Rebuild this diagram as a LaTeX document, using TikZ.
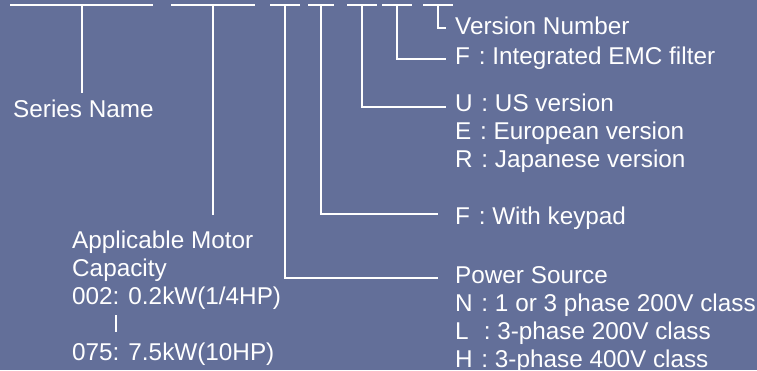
\documentclass[tikz,border=0pt]{standalone}
\usepackage{fontspec}
\setmainfont{Liberation Sans}
\definecolor{bg}{RGB}{99,111,153}
\newcommand{\cl}{\hspace{0.36em}:\ }
\begin{document}
\begin{tikzpicture}[x=1pt,y=-1pt,
  lbl/.style={anchor=base west, inner sep=0pt, text=white, font=\fontsize{24.3}{28}\selectfont},
  wire/.style={draw=white, line width=1.5pt}]
\fill[bg] (0,0) rectangle (757,370);
\useasboundingbox (0,0) rectangle (757,370);
% top bars
\foreach \n/\a/\b/\s in {1/10/153/82, 2/171/255/213, 3/270/300/285, 4/308/334/321, 5/347/377/362, 6/382/412/397, 7/423/453/438}{
  \coordinate (bl\n) at (\a,5);
  \coordinate (br\n) at (\b,5);
  \coordinate (s\n) at (\s,5);
  \draw[wire] (bl\n) -- (br\n);
}
% texts
\node[lbl] (ser) at (13,117) {Series Name};
\node[lbl] (app1) at (72,248) {Applicable Motor};
\node[lbl] (app2) at (72,276) {Capacity};
\node[lbl] (app3) at (72,304) {002: 0.2kW(1/4HP)};
\node[lbl] (app4) at (72,360) {075: 7.5kW(10HP)};
\coordinate (rt) at (116,315);
\coordinate (rb) at (116,332);
\draw[wire] (rt) -- (rb);
\node[lbl] (ver) at (455,34) {Version Number};
\node[lbl] (emc) at (455,64.5) {F\cl Integrated EMC filter};
\node[lbl] (us) at (455,111) {U\cl US version};
\node[lbl] (eu) at (455,139) {E\cl European version};
\node[lbl] (jp) at (455,167) {R\cl Japanese version};
\node[lbl] (kp) at (455,224) {F\cl With keypad};
\node[lbl] (ps) at (455,283.5) {Power Source};
\node[lbl] (pn) at (455,311.5) {N\cl 1 or 3 phase 200V class};
\node[lbl] (pl) at (455,339.5) {L\hspace{0.62em}:\ 3-phase 200V class};
\node[lbl] (ph) at (455,367) {H\cl 3-phase 400V class};
% connectors
\coordinate (e1) at (82,93);
\coordinate (e2) at (213,215);
\coordinate (e3) at (438,278);
\coordinate (e4) at (438,214);
\coordinate (e5) at (446,107);
\coordinate (e6) at (446,59);
\coordinate (e7) at (446,28);
\draw[wire] (s1) -- (e1);
\draw[wire] (s2) -- (e2);
\draw[wire] (s3) |- (e3);
\draw[wire] (s4) |- (e4);
\draw[wire] (s5) |- (e5);
\draw[wire] (s6) |- (e6);
\draw[wire] (s7) |- (e7);
\end{tikzpicture}
\end{document}
